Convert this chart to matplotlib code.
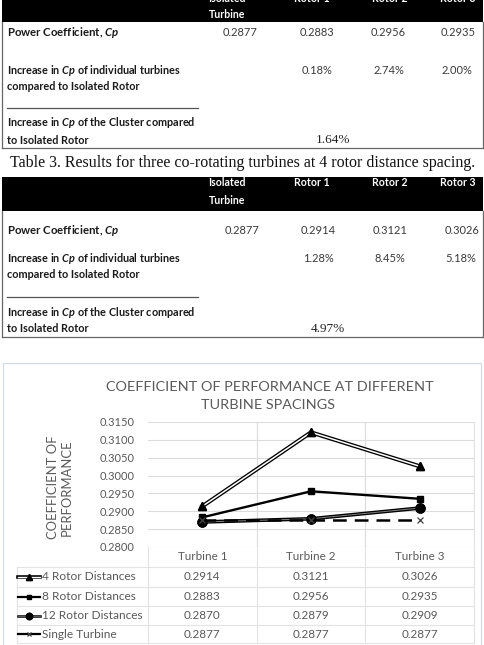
import matplotlib
matplotlib.use("Agg")
import matplotlib.pyplot as plt
from matplotlib.patches import Rectangle

plt.rcParams['font.family'] = ['Lato', 'DejaVu Sans']
plt.rcParams['mathtext.fontset'] = 'custom'
plt.rcParams['mathtext.rm'] = 'Lato:bold'
plt.rcParams['mathtext.it'] = 'Lato:bold:italic'

# ---------------- data ----------------
t_headers = ["Isolated\nTurbine", "Rotor 1", "Rotor 2", "Rotor 3"]
table2_cp = [0.2877, 0.2883, 0.2956, 0.2935]
table2_inc = ["0.18%", "2.74%", "2.00%"]
table2_cluster = "1.64%"
table3_cp = [0.2877, 0.2914, 0.3121, 0.3026]
table3_inc = ["1.28%", "8.45%", "5.18%"]
table3_cluster = "4.97%"
caption3 = "Table 3. Results for three co-rotating turbines at 4 rotor distance spacing."
row_labels = ["Power Coefficient, $Cp$",
              "Increase in $Cp$ of individual turbines\ncompared to Isolated Rotor",
              "Increase in $Cp$ of the Cluster compared\nto Isolated Rotor"]

categories = ["Turbine 1", "Turbine 2", "Turbine 3"]
series_names = ["4 Rotor Distances", "8 Rotor Distances", "12 Rotor Distances", "Single Turbine"]
cp_4 = [0.2914, 0.3121, 0.3026]
cp_8 = [0.2883, 0.2956, 0.2935]
cp_12 = [0.2870, 0.2879, 0.2909]
cp_single = [0.2877, 0.2877, 0.2877]
y_ticks = [0.2800, 0.2850, 0.2900, 0.2950, 0.3000, 0.3050, 0.3100, 0.3150]
chart_title = "COEFFICIENT OF PERFORMANCE AT DIFFERENT\nTURBINE SPACINGS"
y_title = "COEFFICIENT OF\nPERFORMANCE"

W, H = 485, 645
fig = plt.figure(figsize=(W / 100, H / 100), dpi=100)
fig.patch.set_facecolor('white')
bg = fig.add_axes([0, 0, 1, 1])
bg.set_xlim(0, W)
bg.set_ylim(H, 0)
bg.axis('off')

LBL = '#1a1a1a'
VAL = '#3a3a3a'
BORDER = '#666666'


def draw_table(y_band0, y_band1, head_y, cp_row_y, inc_y, sep_y, clu_y, box_bottom,
               cp_vals, cp_x, inc_vals, inc_x, cluster, clu_x):
    bg.add_patch(Rectangle((2, y_band0), 481, y_band1 - y_band0, facecolor='black',
                           edgecolor='none'))
    hx = [227, 312, 390, 458]
    for h, x in zip(t_headers, hx):
        lines = h.split("\n")
        for k, ln in enumerate(lines):
            bg.text(x, head_y + 17 * k, ln, color='white', fontsize=7.6, fontweight='bold',
                    ha='center', va='center')
    for xx in (2, 483):
        bg.plot([xx, xx], [y_band1, box_bottom], color=BORDER, lw=0.9)
    bg.plot([2, 483], [box_bottom, box_bottom], color=BORDER, lw=0.9)
    bg.text(7, cp_row_y, row_labels[0], color=LBL, fontsize=8.2, fontweight='bold',
            ha='left', va='center')
    for v, x in zip(cp_vals, cp_x):
        bg.text(x, cp_row_y, f"{v:.4f}", color=VAL, fontsize=8, ha='center', va='center')
    l1, l2 = row_labels[1].split("\n")
    bg.text(7, inc_y, l1, color=LBL, fontsize=7.8, fontweight='bold', ha='left', va='center')
    bg.text(7, inc_y + 17, l2, color=LBL, fontsize=7.8, fontweight='bold', ha='left', va='center')
    for v, x in zip(inc_vals, inc_x):
        bg.text(x, inc_y, v, color=VAL, fontsize=8, ha='center', va='center')
    bg.plot([7, 198], [sep_y, sep_y], color='#555555', lw=0.9)
    c1, c2 = row_labels[2].split("\n")
    bg.text(7, clu_y, c1, color=LBL, fontsize=7.8, fontweight='bold', ha='left', va='center')
    bg.text(7, clu_y + 17, c2, color=LBL, fontsize=7.8, fontweight='bold', ha='left', va='center')
    bg.text(clu_x, clu_y + 17, cluster, color='#222222', fontsize=9.5,
            family='Liberation Serif', ha='center', va='center')


# Table 2 (cut at top)
draw_table(-5, 22, -2, 33, 70, 108, 123, 148,
           table2_cp, [240, 317, 388, 458], table2_inc, [317, 389, 457],
           table2_cluster, 333)
# caption
bg.text(243, 163, caption3, family='Liberation Serif', fontsize=11.5, color='#111111',
        ha='center', va='center')
# Table 3
draw_table(177, 211, 183, 230, 258, 297, 312, 337,
           table3_cp, [242, 318, 390, 462], table3_inc, [318, 390, 461],
           table3_cluster, 328)

# ---------------- chart ----------------
CH = '#595959'
bg.add_patch(Rectangle((3, 363), 478, 300, facecolor='none', edgecolor='#d5dbe2', lw=0.9))
t1, t2 = chart_title.split("\n")
bg.text(270, 387, t1, color=CH, fontsize=10.4, ha='center', va='center')
bg.text(268, 405, t2, color=CH, fontsize=10.4, ha='center', va='center')
yt1, yt2 = y_title.split("\n")
bg.text(53, 487, yt1, color=CH, fontsize=9.4, rotation=90, ha='center', va='center')
bg.text(67, 488, yt2, color=CH, fontsize=9.4, rotation=90, ha='center', va='center')

AX_L, AX_R, AX_T, AX_B = 148, 474, 422, 547
ax = fig.add_axes([AX_L / W, 1 - AX_B / H, (AX_R - AX_L) / W, (AX_B - AX_T) / H])
ax.set_facecolor('none')
x = list(range(len(categories)))
ax.set_xlim(-0.5, len(categories) - 0.5)
ax.set_ylim(y_ticks[0], y_ticks[-1])
ax.set_yticks(y_ticks)
ax.set_yticklabels([f"{v:.4f}" for v in y_ticks])
ax.tick_params(axis='y', length=0, pad=9.5, labelsize=8, labelcolor=CH)
ax.set_xticks([])
for s in ax.spines.values():
    s.set_visible(False)
GRID = '#dcdcdc'
for v in y_ticks:
    ax.axhline(v, color=GRID, lw=0.8, zorder=0)
for k in range(1, len(categories) + 1):
    ax.axvline(k - 0.5, color=GRID, lw=0.8, zorder=0)

styles = [
    [dict(color='black', lw=3.0, marker='^', ms=5.5, mfc='black', mec='black'),
     dict(color='white', lw=1.1)],
    [dict(color='black', lw=1.7, marker='s', ms=4.5, mfc='black', mec='black')],
    [dict(color='black', lw=2.6, marker='o', ms=6.5, mfc='black', mec='black'),
     dict(color='#808080', lw=0.7)],
    [dict(color='black', lw=1.8, linestyle=(0, (5.5, 3.2)), marker='x', ms=4.5,
          mec='#444444', mew=0.9)],
]
series = [cp_4, cp_8, cp_12, cp_single]
for i, (vals, st) in enumerate(zip(series, styles)):
    for j, kw in enumerate(st):
        ax.plot(x, vals, zorder=3 + i * 2 + j, clip_on=False, **kw)
    if len(st) > 1:
        ax.plot(x, vals, linestyle='none', marker=st[0]['marker'], ms=st[0]['ms'],
                mfc='black', mec='black', zorder=3 + i * 2 + 1.5, clip_on=False)

# data table below chart
colw = (AX_R - AX_L) / len(categories)
row_b = [547, 567, 587, 606, 625, 643]
TG = '#e3e3e3'
for yy in row_b[1:]:
    bg.plot([17, AX_R], [yy, yy], color=TG, lw=0.8)
for k in range(len(categories) + 1):
    bg.plot([AX_L + k * colw] * 2, [AX_T if k > 0 else AX_B, row_b[-1]], color=TG, lw=0.8)
bg.plot([17, 17], [row_b[1], row_b[-1]], color=TG, lw=0.8)
for k, c in enumerate(categories):
    cx = AX_L + (k + 0.5) * colw
    bg.text(cx, 557, c, color=CH, fontsize=8.4, ha='center', va='center')
key_lw = [(2.6, 1.0), (1.6,), (1.8, 0.5), (1.6,)]
for r, (name, vals, st) in enumerate(zip(series_names, series, styles)):
    cy = (row_b[r + 1] + row_b[r + 2]) / 2
    for j, kw in enumerate(st):
        kk = dict(kw)
        kk['markevery'] = [1]
        kk['lw'] = key_lw[r][j]
        kk.pop('linestyle', None)
        if 'ms' in kk:
            kk['ms'] = kk['ms'] * 0.7
        bg.plot([18, 29, 40], [cy, cy, cy], **kk)
    if len(st) > 1:
        bg.plot([29], [cy], linestyle='none', marker=st[0]['marker'], ms=st[0]['ms'] * 0.7,
                mfc='black', mec='black')
    bg.text(42, cy, name, color=CH, fontsize=8.6, ha='left', va='center')
    for k, v in enumerate(vals):
        cx = AX_L + (k + 0.5) * colw
        bg.text(cx, cy, f"{v:.4f}", color=CH, fontsize=8.4, ha='center', va='center')

fig.savefig("out.png", dpi=100, facecolor='white')
